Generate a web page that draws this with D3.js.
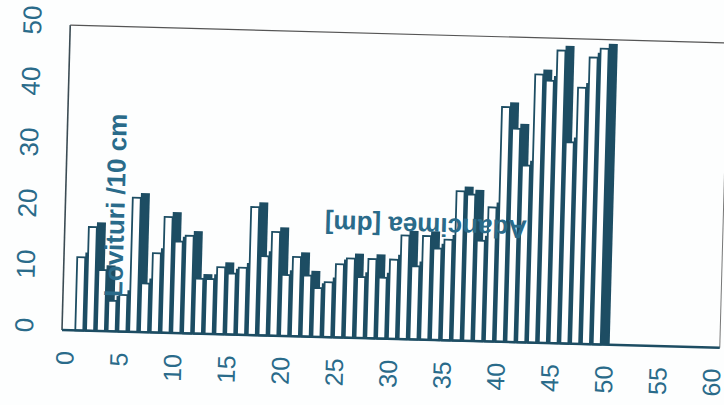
<!DOCTYPE html>
<html><head><meta charset="utf-8">
<script src="https://cdn.jsdelivr.net/npm/d3@7"></script>
<style>html,body{margin:0;padding:0;background:#fff}svg{display:block}</style>
</head><body>
<svg id="c" width="724" height="405"></svg>
<script>
// ---- data ----
const depths = [1,2,3,4,5,6,7,8,9,10,11,12,13,14,15,16,17,18,19,20,21,22,23,24,25,26,27,28,29,30,31,32,33,34,35,36,37,38,39,40,41,42,43,44,45,46,47,48,49];
const blows  = [12,17,10,5,6,22,8,13,19,15,16,9,9,11,10,11,21,13,17,10,13,10,8,9,12,13,10,13,10,13,17,12,17,15,16.5,24.5,24,16.5,22,38.5,35,29,44,43,48,33,42,47,48.5];
const xTicks = [0,5,10,15,20,25,30,35,40,45,50,55,60];
const yTicks = [0,10,20,30,40,50];
const xTitle = "Adancimea [dm]";
const yTitle = "Lovituri /10 cm";

// ---- layout ----
const W = 724, H = 405;
const frame = {left: 62, right: 720, top: 25, bottom: 330};
const dark = "#1d4d63";
const textCol = "#2a6b8a";

const x = d3.scaleLinear().domain([0, 60]).range([67, 714]);
const y = d3.scaleLinear().domain([0, 50]).range([frame.bottom, frame.top]);

const svg = d3.select("#c");
svg.append("rect").attr("width", W).attr("height", H).attr("fill", "#fdfefe");

const g = svg.append("g").attr("transform", `rotate(1.55,${frame.left},${frame.bottom})`);

// frame
g.append("line").attr("x1", frame.left).attr("x2", frame.right).attr("y1", frame.top).attr("y2", frame.top)
  .attr("stroke", "#555").attr("stroke-width", 1.2);
g.append("line").attr("x1", frame.right).attr("x2", frame.right).attr("y1", frame.top).attr("y2", frame.bottom)
  .attr("stroke", "#777").attr("stroke-width", 1);
g.append("line").attr("x1", frame.left).attr("x2", frame.left).attr("y1", frame.top).attr("y2", frame.bottom)
  .attr("stroke", "#3c4c54").attr("stroke-width", 1.6);

const data = depths.map((d, i) => ({d, v: blows[i]}));
const faceW = 8;

// shadows
g.append("g").selectAll("rect").data(data).join("rect")
  .attr("x", p => x(p.d) + 5.5)
  .attr("y", p => y(p.v) - 5)
  .attr("width", 9)
  .attr("height", p => frame.bottom - y(p.v) + 5)
  .attr("fill", dark);

// faces
g.append("g").selectAll("rect").data(data).join("rect")
  .attr("x", p => x(p.d) - 2.5)
  .attr("y", p => y(p.v))
  .attr("width", faceW)
  .attr("height", p => frame.bottom - y(p.v))
  .attr("fill", "#fff")
  .attr("stroke", dark)
  .attr("stroke-width", 1.8);

// bottom axis line
g.append("line").attr("x1", frame.left).attr("x2", frame.right).attr("y1", frame.bottom).attr("y2", frame.bottom)
  .attr("stroke", dark).attr("stroke-width", 2.5);

// y tick labels (rotated)
g.append("g").selectAll("text").data(yTicks).join("text")
  .attr("transform", v => `translate(33,${y(v) - 4}) rotate(-90)`)
  .attr("text-anchor", "middle")
  .attr("font-family", "Liberation Sans, Arial, sans-serif")
  .attr("font-size", 26)
  .attr("fill", textCol)
  .text(v => v);

// x tick labels (rotated)
g.append("g").selectAll("text").data(xTicks).join("text")
  .attr("transform", v => `translate(${x(v) - 1.5},351) rotate(-90)`)
  .attr("text-anchor", "end")
  .attr("dy", "0.35em")
  .attr("font-family", "Liberation Sans, Arial, sans-serif")
  .attr("font-size", 25)
  .attr("fill", textCol)
  .text(v => v);

// titles
g.append("text")
  .attr("transform", "translate(112,204) rotate(-90)")
  .attr("text-anchor", "middle").attr("dy", "0.35em")
  .attr("font-family", "Liberation Sans, Arial, sans-serif")
  .attr("font-weight", "bold").attr("font-size", 26)
  .attr("fill", textCol)
  .text(yTitle);

g.append("text")
  .attr("transform", "translate(423,217) rotate(180)")
  .attr("text-anchor", "middle").attr("dy", "0.35em")
  .attr("font-family", "Liberation Sans, Arial, sans-serif")
  .attr("font-weight", "bold").attr("font-size", 26)
  .attr("fill", textCol)
  .text(xTitle);
</script>
</body></html>
